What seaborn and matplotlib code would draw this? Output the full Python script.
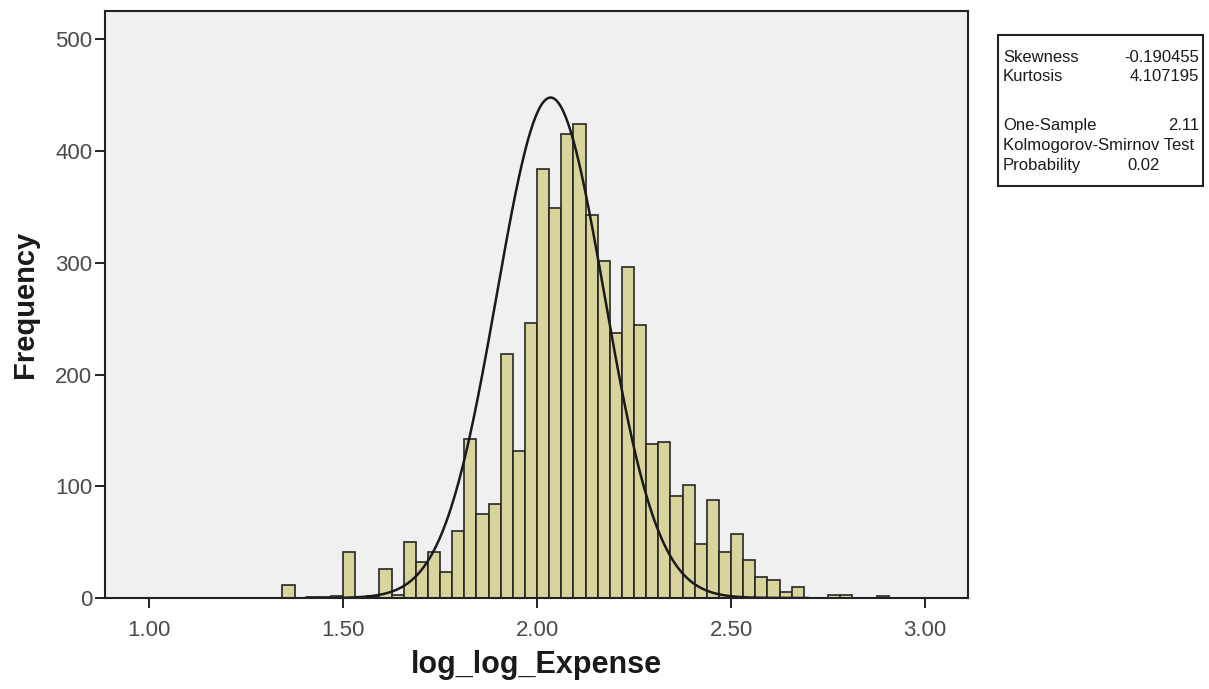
import numpy as np
import pandas as pd
import matplotlib
matplotlib.use("Agg")
import matplotlib.pyplot as plt
import seaborn as sns

# histogram bins (bin width ~0.03125, first edge 1.34375)
bin_start = 1.34375
bin_width = 0.03125
counts = [12, 0, 1, 1, 2, 41, 1, 2, 26, 3,
          50, 32, 41, 23, 60, 142, 75, 84, 218, 132,
          246, 384, 349, 415, 424, 343, 302, 237, 296, 244,
          138, 140, 91, 101, 48, 88, 41, 57, 34, 19,
          16, 5, 10, 0, 0, 3, 3, 0, 0, 2]

# fitted normal curve drawn by SPSS
curve_mean = 2.035
curve_sd = 0.1386
curve_peak = 448

x_ticks = [1.0, 1.5, 2.0, 2.5, 3.0]
x_ticklabels = ["1.00", "1.50", "2.00", "2.50", "3.00"]
y_ticks = [0, 100, 200, 300, 400, 500]

stats_rows = [("Skewness", "-0.190455"),
              ("Kurtosis", "4.107195"),
              ("", ""),
              ("One-Sample", "2.11"),
              ("Kolmogorov-Smirnov Test", ""),
              ("Probability", "0.02")]

sns.set_style("white")
plt.rcParams['font.family'] = ['Liberation Sans', 'DejaVu Sans']

n_bins = len(counts)
centers = bin_start + bin_width * (np.arange(n_bins) + 0.5)
hist_df = pd.DataFrame({"log_log_Expense": centers, "count": counts})

xs = np.linspace(1.40, 2.70, 400)
curve_df = pd.DataFrame({"x": xs,
                         "y": curve_peak * np.exp(-0.5 * ((xs - curve_mean) / curve_sd) ** 2)})

fig = plt.figure(figsize=(12.09, 6.89), dpi=100)
ax = fig.add_axes([105 / 1209, 1 - 598 / 689, (968 - 105) / 1209, (598 - 11) / 689])
ax.set_facecolor("#F0F0F0")

sns.histplot(data=hist_df, x="log_log_Expense", weights="count",
             binwidth=bin_width, binrange=(bin_start, bin_start + n_bins * bin_width),
             color="#D8D49C", edgecolor="#262626", linewidth=1.2, alpha=1.0, ax=ax)
sns.lineplot(data=curve_df, x="x", y="y", color="#1a1a1a", linewidth=1.8, ax=ax)

ax.set_xlim(0.8866, 3.1108)
ax.set_ylim(0, 525.5)
ax.set_xticks(x_ticks)
ax.set_xticklabels(x_ticklabels)
ax.set_yticks(y_ticks)
ax.tick_params(axis="both", direction="out", length=7, width=1.4, color="#222222",
               labelsize=16, labelcolor="#4a4a4a", bottom=True, left=True)
ax.tick_params(axis="y", pad=2)
ax.tick_params(axis="x", pad=9)
for s in ax.spines.values():
    s.set_color("#222222")
    s.set_linewidth(1.5)

ax.set_xlabel("log_log_Expense", fontsize=22, fontweight="bold", labelpad=6,
              color="#1a1a1a")
ax.set_ylabel("Frequency", fontsize=21, fontweight="bold", labelpad=12,
              color="#1a1a1a")

# stats box outside the axes
box_l, box_r, box_t, box_b = 998, 1203, 35, 186
fig.patches.append(plt.Rectangle((box_l / 1209, 1 - box_b / 689),
                                 (box_r - box_l) / 1209, (box_b - box_t) / 689,
                                 transform=fig.transFigure, fill=False,
                                 edgecolor="#222222", linewidth=1.5))
row_y = [56, 75, 100, 124, 144, 164]
for (label, val), yy in zip(stats_rows, row_y):
    if label:
        fig.text(1003 / 1209, 1 - yy / 689, label, fontsize=12, va="center_baseline",
                 ha="left", color="#1a1a1a")
    if val:
        if label == "Probability":
            fig.text(1127 / 1209, 1 - yy / 689, val, fontsize=12, va="center_baseline",
                     ha="left", color="#1a1a1a")
        else:
            fig.text(1199 / 1209, 1 - yy / 689, val, fontsize=12, va="center_baseline",
                     ha="right", color="#1a1a1a")

fig.savefig("out.png", dpi=100)
